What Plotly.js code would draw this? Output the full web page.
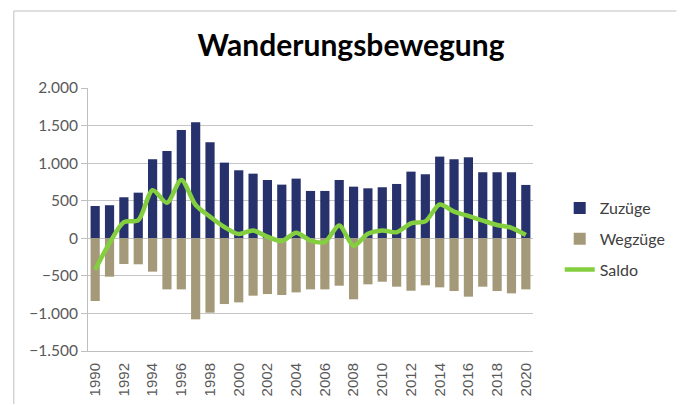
<!DOCTYPE html>
<html>
<head>
<meta charset="utf-8">
<script src="https://cdn.plot.ly/plotly-3.0.1.min.js"></script>
<style>html,body{margin:0;padding:0;background:#fff;}#chart{width:683px;height:405px;}</style>
</head>
<body>
<div id="chart"></div>
<script>
const years = [1990,1991,1992,1993,1994,1995,1996,1997,1998,1999,2000,2001,2002,2003,2004,2005,2006,2007,2008,2009,2010,2011,2012,2013,2014,2015,2016,2017,2018,2019,2020];
const zuzuege = [430,440,546,607,1052,1162,1442,1545,1278,1007,905,860,776,714,794,630,630,776,687,665,679,723,887,852,1087,1052,1078,879,879,879,710];
const wegzuege = [-835,-511,-342,-346,-444,-680,-680,-1079,-990,-875,-853,-764,-742,-755,-720,-680,-680,-631,-812,-613,-578,-644,-698,-626,-653,-702,-777,-644,-702,-733,-680];
const saldo = [-420,-63,215,240,640,474,776,443,288,150,57,105,21,-36,75,-30,-50,170,-100,60,105,80,200,225,450,355,297,235,177,140,44];

const FONT = 'Lato, "Open Sans", sans-serif';
const traces = [
  {type:'bar', name:'Zuzüge', x:years, y:zuzuege, marker:{color:'#27316b'}, width:0.64, legendgroup:'a'},
  {type:'bar', name:'Wegzüge', x:years, y:wegzuege, marker:{color:'#a49a79'}, width:0.64, legendgroup:'b'},
  {type:'scatter', mode:'lines', name:'Saldo', x:years, y:saldo, line:{color:'#84cf3f', width:4.5, shape:'spline', smoothing:0.8}, legendgroup:'c'}
];
const px2x = p => (p-88)/450, px2y = p => (351-p)/263;
const layout = {
  width:683, height:405,
  margin:{l:88, r:145, t:88, b:54},
  paper_bgcolor:'#fff', plot_bgcolor:'#fff',
  separators:',.',
  barmode:'relative',
  font:{family:FONT, color:'#595959', size:15},
  title:{text:'<b>Wanderungsbewegung</b>', x:351/683, xanchor:'center', y:1-45/405, yanchor:'middle', font:{family:FONT, size:30, color:'#000'}},
  xaxis:{range:[1989.5,2020.5], tickmode:'linear', tick0:1990, dtick:2, tickangle:-90, showgrid:false, zeroline:false,
         showline:true, linecolor:'#bfbfbf', linewidth:1, ticks:'', ticklabelstandoff:5,
         tickfont:{family:'"Liberation Sans", Arial, sans-serif', size:15, color:'#595959'}},
  yaxis:{range:[-1500,2000], dtick:500, tickformat:',d', showgrid:true, gridcolor:'#c6c6c6', gridwidth:1, zeroline:false,
         showline:true, linecolor:'#bfbfbf', ticks:'outside', ticklen:6, tickcolor:'#bfbfbf', tickfont:{size:15.5, color:'#595959'}},
  showlegend:true,
  legend:{x:px2x(565), y:px2y(191), xanchor:'left', yanchor:'top', traceorder:'grouped', tracegroupgap:7, font:{size:16, color:'#404040'}, itemwidth:30},
  shapes:[
    {type:'line', xref:'paper', yref:'paper', x0:px2x(13), x1:px2x(13), y0:px2y(404), y1:px2y(11), line:{color:'#bfbfbf', width:1}},
    {type:'line', xref:'paper', yref:'paper', x0:px2x(13), x1:px2x(683), y0:px2y(11), y1:px2y(11), line:{color:'#bfbfbf', width:1}}
  ]
};
Plotly.newPlot('chart', traces, layout, {displayModeBar:false, staticPlot:true});
</script>
</body>
</html>
